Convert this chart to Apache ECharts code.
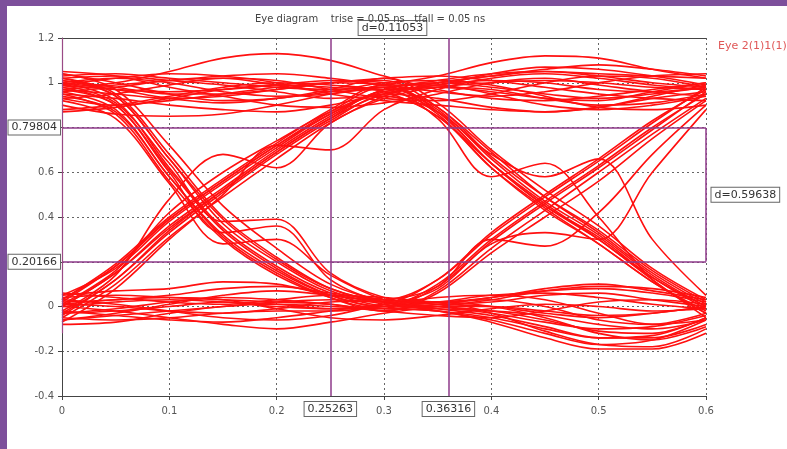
<!DOCTYPE html>
<html>
<head>
<meta charset="utf-8">
<script src="https://cdn.jsdelivr.net/npm/echarts@6/dist/echarts.min.js"></script>
<style>
  html, body { margin: 0; padding: 0; background: #ffffff; }
  #wrap { position: relative; width: 787px; height: 449px; overflow: hidden; background: #fff; }
  #chart { position: absolute; left: 0; top: 0; width: 787px; height: 449px; }
  #bTop { position: absolute; left: 0; top: 0; width: 787px; height: 6px; background: #7d4f9b; }
  #bLeft { position: absolute; left: 0; top: 0; width: 7px; height: 449px; background: #7d4f9b; }
</style>
</head>
<body>
<div id="wrap">
  <div id="chart"></div>
  <div id="bTop"></div>
  <div id="bLeft"></div>
</div>
<script>
// ---- data ----
const timeNs = [0, 0.05, 0.1, 0.15, 0.2, 0.25, 0.3, 0.35, 0.4, 0.45, 0.5, 0.55, 0.6];
const xTicks = [0, 0.1, 0.2, 0.3, 0.4, 0.5, 0.6];
const yTicks = [-0.4, -0.2, 0, 0.2, 0.4, 0.6, 0.8, 1, 1.2];

const highHigh = [
  [1.03, 1.04, 1.02, 1.00, 0.98, 0.97, 0.98, 1.00, 1.03, 1.05, 1.04, 1.03, 1.02],
  [0.98, 1.00, 1.05, 1.11, 1.13, 1.10, 1.03, 0.97, 0.93, 0.92, 0.94, 0.97, 1.00],
  [0.95, 0.93, 0.90, 0.88, 0.87, 0.90, 0.95, 0.98, 0.97, 0.93, 0.90, 0.91, 0.95],
  [0.90, 0.86, 0.85, 0.86, 0.90, 0.95, 0.99, 1.03, 1.09, 1.12, 1.11, 1.06, 1.02],
  [1.00, 0.97, 0.93, 0.91, 0.93, 0.96, 1.00, 1.01, 0.99, 0.94, 0.89, 0.88, 0.90],
  [0.93, 0.95, 0.99, 1.02, 1.01, 0.97, 0.93, 0.92, 0.95, 1.00, 1.03, 1.02, 0.98],
  [1.05, 1.03, 0.98, 0.94, 0.90, 0.89, 0.91, 0.95, 1.00, 1.02, 0.99, 0.96, 0.94],
  [0.97, 0.99, 1.01, 1.03, 1.04, 1.02, 0.99, 0.96, 0.94, 0.96, 1.00, 1.03, 1.04],
  [1.01, 0.98, 0.95, 0.95, 0.97, 1.00, 1.02, 1.03, 1.01, 0.98, 0.95, 0.93, 0.92],
  [0.87, 0.89, 0.93, 0.97, 0.99, 0.98, 0.97, 0.99, 1.04, 1.07, 1.06, 1.03, 0.99],
  [0.99, 1.02, 1.04, 1.03, 1.00, 0.95, 0.92, 0.90, 0.88, 0.87, 0.89, 0.94, 0.99]
];
const lowLow = [
  [0.02, 0.03, 0.05, 0.08, 0.09, 0.06, 0.03, 0.01, 0.00, -0.03, -0.05, -0.03, 0.00],
  [-0.05, -0.06, -0.05, -0.03, -0.02, -0.02, 0.00, 0.02, -0.03, -0.11, -0.17, -0.18, -0.10],
  [0.00, -0.02, -0.05, -0.08, -0.10, -0.07, -0.03, 0.00, 0.03, 0.07, 0.09, 0.08, 0.04],
  [-0.08, -0.07, -0.03, 0.00, 0.01, 0.00, -0.01, -0.02, -0.07, -0.14, -0.19, -0.19, -0.12],
  [0.05, 0.07, 0.08, 0.11, 0.10, 0.05, 0.02, 0.00, -0.02, -0.06, -0.11, -0.12, -0.05],
  [-0.03, -0.01, 0.02, 0.04, 0.03, 0.01, -0.02, -0.04, -0.05, -0.02, 0.02, 0.03, 0.01],
  [0.03, 0.01, -0.02, -0.05, -0.06, -0.04, 0.01, 0.04, 0.05, 0.03, -0.03, -0.08, -0.06],
  [-0.02, -0.04, -0.06, -0.07, -0.05, -0.02, 0.01, 0.02, 0.00, -0.05, -0.12, -0.15, -0.09],
  [0.06, 0.04, 0.02, 0.01, 0.03, 0.05, 0.04, 0.02, 0.04, 0.08, 0.10, 0.07, 0.03],
  [-0.06, -0.03, 0.01, 0.05, 0.07, 0.05, 0.02, -0.01, -0.04, -0.09, -0.14, -0.14, -0.08],
  [0.01, 0.03, 0.04, 0.03, -0.01, -0.05, -0.06, -0.04, -0.01, 0.01, 0.00, -0.02, -0.01]
];
const fallFirst = [
  [1.00, 0.92, 0.62, 0.35, 0.18, 0.06, 0.00, -0.02, -0.05, -0.10, -0.14, -0.13, -0.05],
  [0.95, 0.86, 0.56, 0.30, 0.14, 0.04, -0.01, 0.01, 0.04, 0.07, 0.08, 0.06, 0.02],
  [1.02, 0.95, 0.68, 0.40, 0.22, 0.08, 0.02, 0.00, -0.03, -0.07, -0.10, -0.09, -0.04],
  [0.97, 0.90, 0.60, 0.33, 0.36, 0.12, 0.02, 0.00, 0.00, -0.02, -0.04, -0.03, 0.00],
  [0.92, 0.84, 0.55, 0.28, 0.30, 0.14, 0.03, -0.02, -0.06, -0.12, -0.17, -0.15, -0.06],
  [1.04, 0.97, 0.72, 0.45, 0.26, 0.10, 0.03, 0.02, 0.03, 0.00, -0.06, -0.08, -0.03],
  [0.99, 0.91, 0.64, 0.38, 0.39, 0.15, 0.04, 0.01, 0.02, 0.05, 0.06, 0.03, 0.00],
  [1.01, 0.94, 0.66, 0.37, 0.20, 0.07, 0.01, -0.01, -0.02, -0.04, -0.08, -0.10, -0.06],
  [0.96, 0.88, 0.58, 0.32, 0.16, 0.05, 0.00, 0.02, 0.05, 0.06, 0.04, 0.01, -0.01]
];
const riseFirst = [
  [0.00, 0.15, 0.36, 0.53, 0.70, 0.85, 0.97, 1.00, 0.98, 0.95, 0.93, 0.95, 0.98],
  [-0.05, 0.10, 0.31, 0.49, 0.66, 0.82, 0.94, 1.00, 1.03, 1.06, 1.08, 1.06, 1.03],
  [0.03, 0.19, 0.40, 0.57, 0.73, 0.88, 0.99, 0.99, 0.95, 0.90, 0.88, 0.90, 0.94],
  [-0.02, 0.14, 0.48, 0.68, 0.62, 0.82, 0.93, 0.98, 1.00, 1.01, 1.00, 0.98, 0.97],
  [0.05, 0.17, 0.38, 0.55, 0.71, 0.86, 0.96, 0.98, 0.96, 0.93, 0.92, 0.96, 1.00],
  [-0.07, 0.08, 0.30, 0.50, 0.72, 0.70, 0.88, 0.97, 1.02, 1.04, 1.02, 0.99, 0.97],
  [0.01, 0.16, 0.42, 0.60, 0.74, 0.87, 0.95, 0.93, 0.89, 0.87, 0.89, 0.93, 0.96],
  [-0.03, 0.12, 0.34, 0.52, 0.69, 0.84, 0.95, 0.99, 1.01, 1.00, 0.97, 0.96, 0.98],
  [0.02, 0.18, 0.39, 0.56, 0.72, 0.86, 0.97, 1.01, 1.04, 1.05, 1.03, 1.00, 0.98]
];
const fallSecond = [
  [1.00, 1.02, 1.00, 0.96, 0.94, 0.95, 0.98, 0.88, 0.66, 0.47, 0.32, 0.14, 0.00],
  [0.93, 0.90, 0.92, 0.95, 0.98, 1.00, 0.99, 0.86, 0.62, 0.43, 0.28, 0.11, -0.02],
  [1.04, 1.00, 0.95, 0.92, 0.93, 0.97, 1.02, 0.91, 0.70, 0.52, 0.36, 0.17, 0.03],
  [0.96, 0.98, 1.01, 1.02, 0.99, 0.96, 0.97, 0.84, 0.58, 0.64, 0.40, 0.12, -0.03],
  [0.88, 0.90, 0.94, 0.98, 1.00, 0.99, 0.96, 0.85, 0.64, 0.46, 0.30, 0.12, -0.05],
  [1.02, 1.03, 1.01, 0.99, 0.96, 0.93, 0.94, 0.87, 0.68, 0.58, 0.66, 0.30, 0.05],
  [0.97, 0.95, 0.93, 0.94, 0.97, 1.00, 1.01, 0.89, 0.69, 0.49, 0.33, 0.15, 0.01],
  [0.99, 0.97, 0.96, 0.97, 0.99, 1.01, 1.00, 0.87, 0.64, 0.45, 0.31, 0.13, -0.01]
];
const riseSecond = [
  [0.00, 0.02, 0.03, 0.02, 0.00, -0.01, 0.00, 0.10, 0.30, 0.47, 0.63, 0.80, 0.95],
  [-0.06, -0.04, -0.02, 0.00, 0.02, 0.03, 0.02, 0.12, 0.33, 0.50, 0.66, 0.83, 0.97],
  [0.04, 0.05, 0.04, 0.03, 0.02, 0.01, -0.02, 0.06, 0.24, 0.40, 0.56, 0.75, 0.92],
  [0.01, 0.00, -0.02, -0.03, -0.01, 0.02, 0.03, 0.09, 0.30, 0.27, 0.42, 0.68, 0.90],
  [-0.03, -0.02, 0.00, 0.02, 0.01, -0.01, 0.01, 0.08, 0.28, 0.33, 0.30, 0.60, 0.88]
];
const fallRise = [
  [0.98, 0.90, 0.61, 0.34, 0.17, 0.05, 0.00, 0.09, 0.29, 0.46, 0.62, 0.79, 0.96],
  [1.02, 0.94, 0.66, 0.39, 0.21, 0.08, 0.03, 0.12, 0.32, 0.49, 0.65, 0.82, 0.98],
  [0.94, 0.87, 0.58, 0.31, 0.15, 0.04, -0.02, 0.07, 0.26, 0.43, 0.60, 0.77, 0.93]
];
const riseFall = [
  [0.00, 0.15, 0.35, 0.52, 0.69, 0.84, 0.96, 0.87, 0.64, 0.45, 0.30, 0.13, 0.00],
  [0.03, 0.18, 0.39, 0.56, 0.72, 0.87, 0.98, 0.89, 0.67, 0.49, 0.34, 0.16, 0.02],
  [-0.04, 0.12, 0.33, 0.51, 0.68, 0.83, 0.94, 0.85, 0.62, 0.44, 0.28, 0.11, -0.03]
];

const cursorX = [0.25263, 0.36316];
const cursorY = [0.79804, 0.20166];
const leftMarkerSpan = [-0.12, 1.2];
const titleText = 'Eye diagram    trise = 0.05 ns   tfall = 0.05 ns';
const legendText = 'Eye 2(1)1(1)1(1)';

// ---- chart ----
const allTraces = [].concat(highHigh, lowLow, fallFirst, riseFirst, fallSecond, riseSecond, fallRise, riseFall);
const purple = '#8e3a8a';
const boxLabel = {
  show: true, color: '#333', fontSize: 11, fontFamily: 'DejaVu Sans',
  backgroundColor: '#fff', borderColor: '#666', borderWidth: 1, padding: [2, 3, 1, 3]
};

const series = allTraces.map(tr => ({
  type: 'line', silent: true, symbol: 'none', smooth: 0.35, animation: false,
  data: tr.map((v, i) => [timeNs[i], v]),
  lineStyle: { color: '#ff1010', width: 1.6 }, z: 3
}));

const dx = +(cursorX[1] - cursorX[0]).toFixed(5);
const dy = +(cursorY[0] - cursorY[1]).toFixed(5);
const xMin = xTicks[0], xMax = xTicks[xTicks.length - 1];

series.push({
  type: 'line', silent: true, data: [], animation: false, z: 5,
  markLine: {
    silent: true, symbol: 'none', animation: false,
    lineStyle: { color: purple, width: 1.5, type: 'solid' },
    data: [
      ...cursorX.map(v => ({ xAxis: v, label: Object.assign({}, boxLabel, { position: 'start', distance: 6, formatter: v.toFixed(5) }) })),
      ...cursorY.map(v => ({ yAxis: v, label: Object.assign({}, boxLabel, { position: 'start', distance: 2, formatter: v.toFixed(5) }) })),
      [{ coord: [xMax, cursorY[1]] }, { coord: [xMax, cursorY[0]], label: { show: false } }],
      [{ coord: [xMin, leftMarkerSpan[0]], lineStyle: { color: '#9a4a86', width: 1.2 } }, { coord: [xMin, leftMarkerSpan[1]], label: { show: false } }]
    ]
  },
  markPoint: {
    silent: true, animation: false, symbol: 'rect', symbolSize: 1,
    itemStyle: { color: 'rgba(0,0,0,0)' },
    data: [
      { coord: [(cursorX[0] + cursorX[1]) / 2, yTicks[yTicks.length - 1]],
        label: Object.assign({}, boxLabel, { position: 'inside', offset: [0, -10], formatter: 'd=' + dx.toFixed(5) }) },
      { coord: [xMax, (cursorY[0] + cursorY[1]) / 2],
        label: Object.assign({}, boxLabel, { position: 'right', distance: 5, formatter: 'd=' + dy.toFixed(5) }) }
    ]
  }
});

const chart = echarts.init(document.getElementById('chart'), null, { renderer: 'canvas' });
chart.setOption({
  animation: false,
  backgroundColor: '#fff',
  textStyle: { fontFamily: 'DejaVu Sans' },
  title: {
    text: titleText, left: 250, top: 9,
    textStyle: { fontSize: 10, fontWeight: 'normal', color: '#444', fontFamily: 'DejaVu Sans' }
  },
  graphic: [{
    type: 'text', left: 718, top: 41, z: 10,
    style: { text: legendText, fill: '#e05858', fontSize: 11, fontFamily: 'DejaVu Sans' }
  }],
  grid: { left: 62, right: 81, top: 38, bottom: 53, containLabel: false },
  xAxis: [{
    type: 'value', min: xMin, max: xMax, interval: 0.1,
    axisLine: { show: true, onZero: false, lineStyle: { color: '#444', width: 1 } },
    axisTick: { show: true, length: 4, lineStyle: { color: '#444' } },
    axisLabel: { color: '#555', fontSize: 10, margin: 10, formatter: v => String(+v.toFixed(1)) },
    splitLine: { show: true, lineStyle: { color: '#666', type: [2, 3], width: 1 } }
  }, {
    type: 'value', position: 'top', min: xMin, max: xMax,
    axisLine: { show: true, onZero: false, lineStyle: { color: '#444', width: 1 } },
    axisTick: { show: false }, axisLabel: { show: false }, splitLine: { show: false }
  }],
  yAxis: {
    type: 'value', min: yTicks[0], max: yTicks[yTicks.length - 1], interval: 0.2,
    axisLine: { show: true, onZero: false, lineStyle: { color: '#444', width: 1 } },
    axisTick: { show: true, length: 4, lineStyle: { color: '#444' } },
    axisLabel: {
      color: '#555', fontSize: 10, margin: 8,
      formatter: v => {
        const r = +v.toFixed(1);
        if (Math.abs(r - 0.8) < 1e-6 || Math.abs(r - 0.2) < 1e-6) return '';
        return String(r);
      }
    },
    splitLine: { show: true, lineStyle: { color: '#666', type: [2, 3], width: 1 } }
  },
  series: series
});
</script>
</body>
</html>
